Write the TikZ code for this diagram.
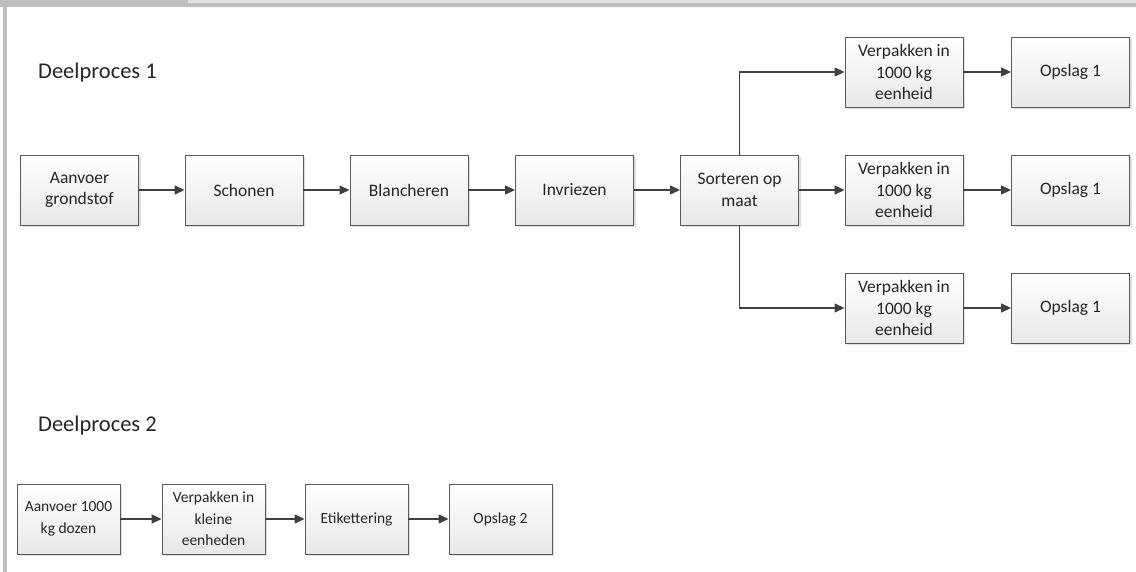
\documentclass[tikz,border=0pt]{standalone}
\usepackage{fontspec}
\setmainfont{Carlito}
\usetikzlibrary{arrows.meta,shadows}
\definecolor{boxline}{HTML}{5A5A5A}
\definecolor{arrowc}{HTML}{404040}
\definecolor{bargray}{HTML}{BFBFBF}
\definecolor{barlight}{HTML}{E2E2E2}
\definecolor{boxbot}{HTML}{E8E8E8}
\tikzset{
  procbox/.style={draw=boxline, line width=0.9pt, top color=white, bottom color=boxbot,
    minimum width=118pt, minimum height=70pt, inner sep=0pt, align=center,
    font=\fontsize{17.5}{21.5}\selectfont, text=black!85,
    drop shadow={opacity=0.25, shadow xshift=2pt, shadow yshift=-2pt}},
  smallbox/.style={procbox, minimum width=103pt, font=\fontsize{15.5}{21.5}\selectfont},
  flow/.style={draw=arrowc, line width=1.3pt, -{Triangle[length=10pt,width=9pt]}},
  title/.style={anchor=west, font=\fontsize{22.5}{26}\selectfont, text=black!85, inner sep=0pt}
}
\begin{document}
\begin{tikzpicture}[x=1pt,y=-1pt]
\useasboundingbox (0,0) rectangle (1136,572);
% frame
\fill[bargray] (0,0) rectangle (1136,7);
\fill[barlight] (188,0) rectangle (1136,3);
\fill[bargray] (3,0) rectangle (7,572);
% titles
\node[title] (t1) at (38,73) {Deelproces 1};
\node[title] (t2) at (38,426) {Deelproces 2};
% row 1
\node[procbox] (a1) at (79.5,190) {Aanvoer\\grondstof};
\node[procbox] (a2) at (244,190) {Schonen};
\node[procbox] (a3) at (409,190) {Blancheren};
\node[procbox] (a4) at (574.5,190) {Invriezen};
\node[procbox] (a5) at (739.5,190) {Sorteren op\\maat};
\node[procbox] (v1) at (904,72) {Verpakken in\\1000 kg\\eenheid};
\node[procbox] (v2) at (904,190) {Verpakken in\\1000 kg\\eenheid};
\node[procbox] (v3) at (904,308) {Verpakken in\\1000 kg\\eenheid};
\node[procbox] (o1) at (1070.5,72) {Opslag 1};
\node[procbox] (o2) at (1070.5,190) {Opslag 1};
\node[procbox] (o3) at (1070.5,308) {Opslag 1};
\draw[flow] (a1) -- (a2);
\draw[flow] (a2) -- (a3);
\draw[flow] (a3) -- (a4);
\draw[flow] (a4) -- (a5);
\draw[flow] (a5) -- (v2);
\draw[flow] (a5.north) |- (v1.west);
\draw[flow] (a5.south) |- (v3.west);
\draw[flow] (v1) -- (o1);
\draw[flow] (v2) -- (o2);
\draw[flow] (v3) -- (o3);
% row 2
\node[smallbox] (b1) at (68.5,519) {Aanvoer 1000\\kg dozen};
\node[smallbox] (b2) at (213.5,519) {Verpakken in\\kleine\\eenheden};
\node[smallbox] (b3) at (356.5,519) {Etikettering};
\node[smallbox] (b4) at (500.5,519) {Opslag 2};
\draw[flow] (b1) -- (b2);
\draw[flow] (b2) -- (b3);
\draw[flow] (b3) -- (b4);
\end{tikzpicture}
\end{document}
